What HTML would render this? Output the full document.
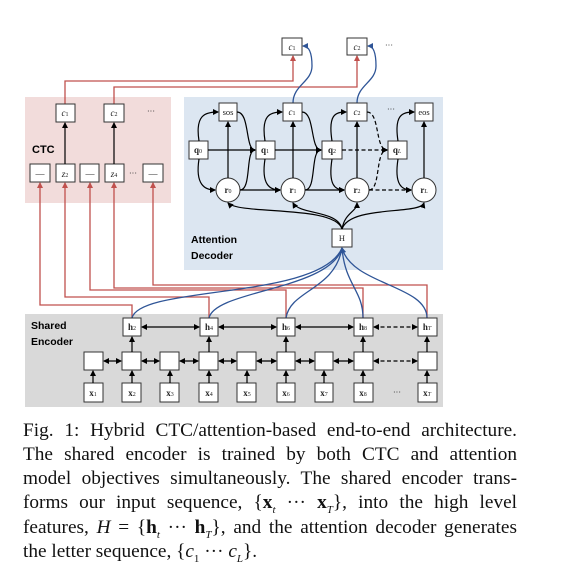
<!DOCTYPE html>
<html><head><meta charset="utf-8"><style>
body{margin:0;width:566px;height:578px;background:#fff;overflow:hidden;position:relative;font-family:"Liberation Serif",serif}
svg{position:absolute;left:0;top:0}
.ln{position:absolute;left:23px;width:494px;font-size:19.3px;line-height:20px;white-space:nowrap;text-align:justify;text-align-last:justify;color:#111}
.ln.last{text-align-last:left}
b.m{font-weight:bold}
sub{font-size:11px;line-height:0}
</style></head><body>
<svg width="566" height="410" viewBox="0 0 566 410" font-family="Liberation Serif, serif">
<defs>
<marker id="a" markerWidth="6" markerHeight="6" refX="5" refY="3" orient="auto" markerUnits="userSpaceOnUse"><path d="M0,0 L6,3 L0,6 z" fill="#000"/></marker>
<marker id="ar" markerWidth="6" markerHeight="6" refX="5" refY="3" orient="auto" markerUnits="userSpaceOnUse"><path d="M0,0 L6,3 L0,6 z" fill="#c0504d"/></marker>
<marker id="ab" markerWidth="6" markerHeight="6" refX="5" refY="3" orient="auto" markerUnits="userSpaceOnUse"><path d="M0,0 L6,3 L0,6 z" fill="#2f5597"/></marker>
<marker id="s" markerWidth="6" markerHeight="6" refX="1" refY="3" orient="auto" markerUnits="userSpaceOnUse"><path d="M6,0 L0,3 L6,6 z" fill="#000"/></marker>
</defs>
<rect x="25" y="97" width="146" height="106" fill="#f2dcdb"/>
<rect x="184" y="97" width="259" height="173" fill="#dce6f1"/>
<rect x="25" y="314" width="418" height="93" fill="#d9d9d9"/>
<text x="32" y="153" font-family="Liberation Sans, sans-serif" font-weight="bold" font-size="11">CTC</text>
<text x="191" y="243" font-family="Liberation Sans, sans-serif" font-weight="bold" font-size="10.5">Attention</text>
<text x="191" y="259" font-family="Liberation Sans, sans-serif" font-weight="bold" font-size="10.5">Decoder</text>
<text x="31" y="329" font-family="Liberation Sans, sans-serif" font-weight="bold" font-size="10.5">Shared</text>
<text x="31" y="345" font-family="Liberation Sans, sans-serif" font-weight="bold" font-size="10.5">Encoder</text>

<g stroke="#c0504d" stroke-width="1.3" fill="none" marker-end="url(#ar)">
<path d="M65,104 V81 H293 V56"/>
<path d="M114,104 V87 H357 V56"/>
<path d="M132,318 V305 H40 V183"/>
<path d="M209,318 V297 H65 V183"/>
<path d="M286,318 V290 H90 V183"/>
<path d="M363,318 V288 H114 V183"/>
<path d="M427,318 V285 H153 V183"/>
</g>

<g stroke="#2f5597" stroke-width="1.3" fill="none">
<path d="M293,103 C293,85 312,82 312,66 C312,50 308,46 303,46" marker-end="url(#ab)"/>
<path d="M357,103 C357,85 376,82 376,66 C376,50 372,46 368,46" marker-end="url(#ab)"/>
<path d="M132,318 C140,285 320,300 342,248" />
<path d="M209,318 C215,290 330,290 342,248" />
<path d="M286,318 C290,290 335,290 342,248" />
<path d="M363,318 C363,290 345,285 342,248" />
<path d="M427,318 C427,285 352,285 342,248" marker-end="url(#ab)"/>
</g>

<g fill="#fff" stroke="#333" stroke-width="1">
<rect x="282" y="38" width="20" height="17"/>
<rect x="347" y="38" width="20" height="17"/>
<rect x="56" y="104" width="19" height="18"/>
<rect x="104" y="104" width="20" height="18"/>
<rect x="30" y="164" width="20" height="18"/>
<rect x="56" y="164" width="19" height="18"/>
<rect x="80" y="164" width="19" height="18"/>
<rect x="105" y="164" width="19" height="18"/>
<rect x="143" y="164" width="20" height="18"/>
<rect x="219" y="103" width="18" height="18"/>
<rect x="283" y="103" width="19" height="18"/>
<rect x="347" y="103" width="20" height="18"/>
<rect x="415" y="103" width="18" height="18"/>
<rect x="189" y="141" width="19" height="18"/>
<rect x="256" y="141" width="19" height="18"/>
<rect x="322" y="141" width="20" height="18"/>
<rect x="388" y="141" width="19" height="18"/>
<circle cx="228" cy="190" r="12"/>
<circle cx="293" cy="190" r="12"/>
<circle cx="357" cy="190" r="12"/>
<circle cx="424" cy="190" r="12"/>
<rect x="332" y="229" width="20" height="18"/>
<rect x="123" y="318" width="18" height="18"/>
<rect x="200" y="318" width="18" height="18"/>
<rect x="277" y="318" width="18" height="18"/>
<rect x="354" y="318" width="19" height="18"/>
<rect x="418" y="318" width="19" height="18"/>
<rect x="84" y="352" width="19" height="18"/><rect x="122" y="352" width="19" height="18"/><rect x="160" y="352" width="19" height="18"/><rect x="199" y="352" width="19" height="18"/><rect x="237" y="352" width="19" height="18"/><rect x="277" y="352" width="18" height="18"/><rect x="315" y="352" width="18" height="18"/><rect x="354" y="352" width="19" height="18"/><rect x="418" y="352" width="19" height="18"/>
<rect x="84" y="383" width="19" height="19"/><rect x="122" y="383" width="19" height="19"/><rect x="160" y="383" width="19" height="19"/><rect x="199" y="383" width="19" height="19"/><rect x="237" y="383" width="19" height="19"/><rect x="277" y="383" width="18" height="19"/><rect x="315" y="383" width="18" height="19"/><rect x="354" y="383" width="19" height="19"/><rect x="418" y="383" width="19" height="19"/>
</g>

<g stroke="#000" stroke-width="1.2" fill="none" marker-end="url(#a)">
<path d="M65,164 V123"/><path d="M114,164 V123"/>
<path d="M228,178 V122"/><path d="M293,178 V122"/><path d="M357,178 V122"/><path d="M424,178 V122"/>
<path d="M208,150 H255"/><path d="M275,150 H321"/>
<path d="M240,190 H280"/><path d="M305,190 H344"/>
<path d="M199,141 C195,115 205,112 218,112"/><path d="M265,141 C261,115 270,112 282,112"/><path d="M332,141 C328,115 335,112 346,112"/><path d="M398,141 C394,115 402,112 414,112"/>
<path d="M199,159 C195,185 205,190 215,190"/><path d="M265,159 C261,185 270,190 280,190"/><path d="M332,159 C328,185 335,190 344,190"/><path d="M398,159 C394,185 402,190 411,190"/>
<path d="M237,112 C250,112 245,150 255,150"/><path d="M302,112 C315,112 310,150 321,150"/>
<path d="M240,190 C252,190 245,150 255,150"/><path d="M305,190 C317,190 310,150 321,150"/>
<path d="M342,229 C335,205 240,215 228,203"/><path d="M342,229 C338,210 300,215 293,203"/><path d="M342,229 C345,212 357,212 357,203"/><path d="M342,229 C350,205 420,215 424,203"/>
<path d="M132,352 V337"/><path d="M209,352 V337"/><path d="M286,352 V337"/><path d="M363,352 V337"/><path d="M427,352 V337"/>
<path d="M93,383 V371"/><path d="M132,383 V371"/><path d="M170,383 V371"/><path d="M209,383 V371"/><path d="M247,383 V371"/><path d="M286,383 V371"/><path d="M324,383 V371"/><path d="M363,383 V371"/><path d="M427,383 V371"/>
</g>
<g stroke="#000" stroke-width="1.2" fill="none" marker-end="url(#a)" marker-start="url(#s)">
<path d="M142,327 H199"/><path d="M219,327 H276"/><path d="M296,327 H353"/>
<path d="M104,361 H121"/><path d="M142,361 H159"/><path d="M180,361 H198"/><path d="M219,361 H236"/><path d="M257,361 H276"/><path d="M296,361 H314"/><path d="M334,361 H353"/>
</g>
<g stroke="#000" stroke-width="1.2" fill="none" stroke-dasharray="4,2.5" marker-end="url(#a)">
<path d="M342,150 H387"/><path d="M369,190 H411"/>
<path d="M367,112 C380,112 375,150 387,150"/><path d="M369,190 C381,190 375,150 387,150"/>
</g>
<g stroke="#000" stroke-width="1.2" fill="none" stroke-dasharray="4,2.5" marker-end="url(#a)" marker-start="url(#s)">
<path d="M374,327 H417"/><path d="M374,361 H417"/>
</g>

<g font-size="9" text-anchor="middle" fill="#222">
<text x="292" y="50" font-style="italic">c<tspan font-size="6" font-style="normal">1</tspan></text>
<text x="357" y="50" font-style="italic">c<tspan font-size="6" font-style="normal">2</tspan></text>
<text x="389" y="48" font-size="8">···</text>
<text x="65" y="116" font-style="italic">c<tspan font-size="6" font-style="normal">1</tspan></text>
<text x="114" y="116" font-style="italic">c<tspan font-size="6" font-style="normal">2</tspan></text>
<text x="151" y="114" font-size="8">···</text>
<text x="40" y="177">—</text><text x="90" y="177">—</text><text x="153" y="177">—</text>
<text x="65" y="177" font-style="italic">z<tspan font-size="6" font-style="normal">2</tspan></text>
<text x="114" y="177" font-style="italic">z<tspan font-size="6" font-style="normal">4</tspan></text>
<text x="133" y="176" font-size="8">···</text>
<text x="228" y="115" font-size="8.5">sos</text>
<text x="292" y="115" font-style="italic">c<tspan font-size="6" font-style="normal">1</tspan></text>
<text x="357" y="115" font-style="italic">c<tspan font-size="6" font-style="normal">2</tspan></text>
<text x="391" y="112" font-size="8">···</text>
<text x="424" y="115" font-size="8.5">eos</text>
<g font-weight="bold">
<text x="198" y="153">q<tspan font-size="6" font-weight="normal">0</tspan></text>
<text x="265" y="153">q<tspan font-size="6" font-weight="normal">1</tspan></text>
<text x="332" y="153">q<tspan font-size="6" font-weight="normal">2</tspan></text>
<text x="397" y="153">q<tspan font-size="6" font-style="italic" font-weight="normal">L</tspan></text>
<text x="228" y="193">r<tspan font-size="6" font-weight="normal">0</tspan></text>
<text x="293" y="193">r<tspan font-size="6" font-weight="normal">1</tspan></text>
<text x="357" y="193">r<tspan font-size="6" font-weight="normal">2</tspan></text>
<text x="424" y="193">r<tspan font-size="6" font-style="italic" font-weight="normal">L</tspan></text>
<text x="132" y="330">h<tspan font-size="6" font-weight="normal">2</tspan></text>
<text x="209" y="330">h<tspan font-size="6" font-weight="normal">4</tspan></text>
<text x="286" y="330">h<tspan font-size="6" font-weight="normal">6</tspan></text>
<text x="363" y="330">h<tspan font-size="6" font-weight="normal">8</tspan></text>
<text x="427" y="330">h<tspan font-size="6" font-style="italic" font-weight="normal">T</tspan></text>
<text x="93" y="396">x<tspan font-size="6" font-weight="normal">1</tspan></text>
<text x="132" y="396">x<tspan font-size="6" font-weight="normal">2</tspan></text>
<text x="170" y="396">x<tspan font-size="6" font-weight="normal">3</tspan></text>
<text x="209" y="396">x<tspan font-size="6" font-weight="normal">4</tspan></text>
<text x="247" y="396">x<tspan font-size="6" font-weight="normal">5</tspan></text>
<text x="286" y="396">x<tspan font-size="6" font-weight="normal">6</tspan></text>
<text x="324" y="396">x<tspan font-size="6" font-weight="normal">7</tspan></text>
<text x="363" y="396">x<tspan font-size="6" font-weight="normal">8</tspan></text>
<text x="427" y="396">x<tspan font-size="6" font-style="italic" font-weight="normal">T</tspan></text>
</g>
<text x="342" y="241" font-size="8.5">H</text>
<text x="397" y="395" font-size="8">···</text>
</g>
</svg>
<div class="ln" style="top:421px">Fig. 1: Hybrid CTC/attention-based end-to-end architecture.</div>
<div class="ln" style="top:445px">The shared encoder is trained by both CTC and attention</div>
<div class="ln" style="top:469px">model objectives simultaneously. The shared encoder trans-</div>
<div class="ln" style="top:493px">forms our input sequence, {<b class="m">x</b><sub><i>t</i></sub> ··· <b class="m">x</b><sub><i>T</i></sub>}, into the high level</div>
<div class="ln" style="top:518px">features, <i>H</i> = {<b class="m">h</b><sub><i>t</i></sub> ··· <b class="m">h</b><sub><i>T</i></sub>}, and the attention decoder generates</div>
<div class="ln last" style="top:542px">the letter sequence, {<i>c</i><sub>1</sub> ··· <i>c<sub>L</sub></i>}.</div>
</body></html>
